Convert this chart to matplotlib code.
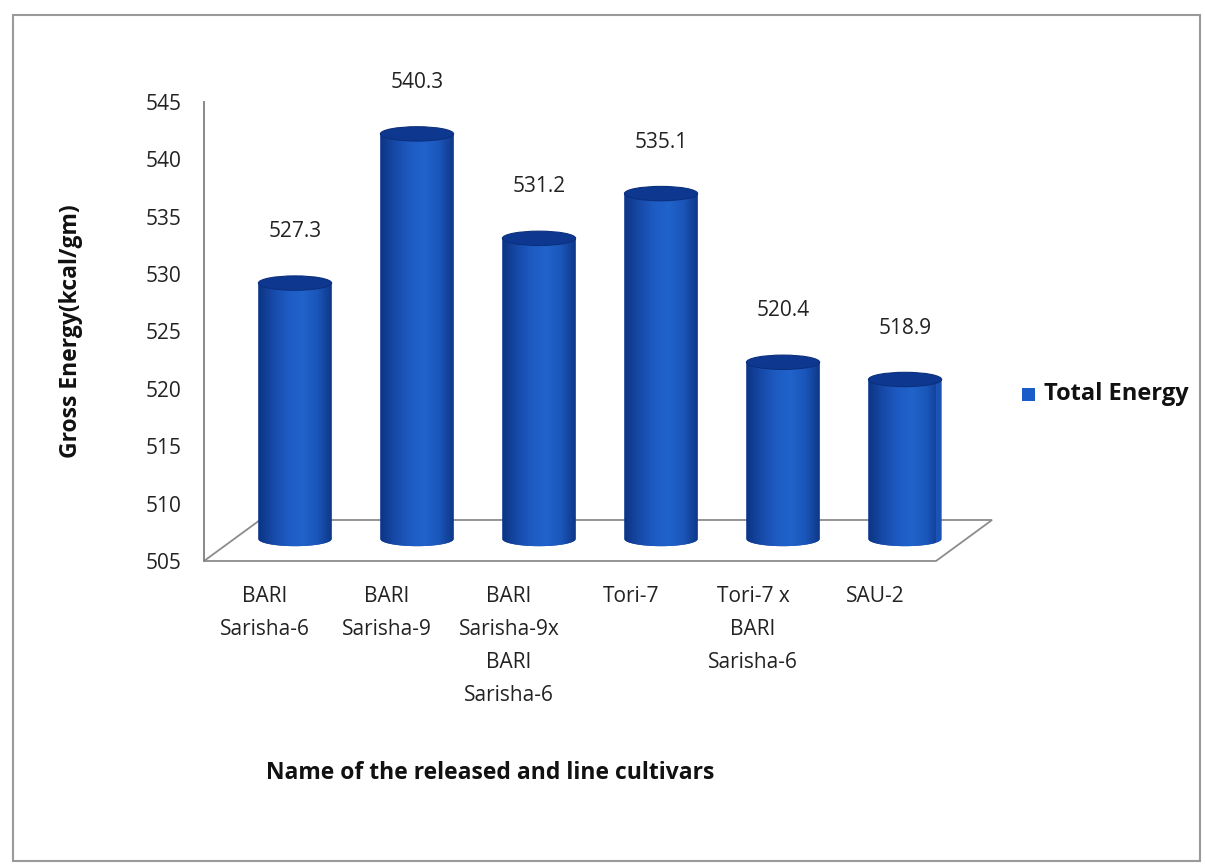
import numpy as np
import matplotlib
matplotlib.use('Agg')
import matplotlib.pyplot as plt
import matplotlib.transforms as mtransforms
from matplotlib.path import Path
from matplotlib.patches import PathPatch, Ellipse, Rectangle, Polygon

# data
cultivars = ['BARI\nSarisha-6', 'BARI\nSarisha-9', 'BARI\nSarisha-9x\nBARI\nSarisha-6',
             'Tori-7', 'Tori-7 x\nBARI\nSarisha-6', 'SAU-2']
energy = [527.3, 540.3, 531.2, 535.1, 520.4, 518.9]
y_ticks = [505, 510, 515, 520, 525, 530, 535, 540, 545]
series_name = 'Total Energy'

plt.rcParams['font.family'] = ['Open Sans', 'DejaVu Sans']

fig = plt.figure(figsize=(12.05, 8.64), dpi=100)
ax = fig.add_axes([0.1693, 0.3507, 0.6075, 0.5313])
ymin, ymax = 505, 545
ax.set_xlim(-0.5, len(cultivars) - 0.5)
ax.set_ylim(ymin, ymax)

# outer chart frame
fig.patches.append(Rectangle((13 / 1205, 3 / 864), 1187 / 1205, 846 / 864,
                             transform=fig.transFigure, fill=False,
                             edgecolor='#9a9a9a', linewidth=1.5))

for s in ['top', 'right', 'bottom']:
    ax.spines[s].set_visible(False)
ax.spines['left'].set_color('#7f7f7f')
ax.spines['left'].set_linewidth(1.3)
ax.set_yticks(y_ticks)
ax.set_xticks(range(len(cultivars)))
ax.set_xticklabels(cultivars, fontsize=15, color='#222222', linespacing=1.75)
ax.tick_params(axis='both', length=0, labelsize=15, labelcolor='#222222')
ax.tick_params(axis='y', pad=16)
ax.tick_params(axis='x', pad=18)
for lab in ax.get_xticklabels():
    lab.set_verticalalignment('top')

# floor of the 3d plot (depth drawn with pixel offsets)
back = mtransforms.offset_copy(ax.transData, fig=fig, x=56, y=41, units='dots')
x0, x1 = -0.5, len(cultivars) - 0.5
fx0, fy0 = ax.transData.transform((x0, ymin))
fx1, fy1 = ax.transData.transform((x1, ymin))
bx0, by0 = back.transform((x0, ymin))
bx1, by1 = back.transform((x1, ymin))
floor = Polygon([(fx0, fy0), (fx1, fy1), (bx1, by1), (bx0, by0)], closed=True,
                transform=None, facecolor='white', edgecolor='#8c8c8c',
                linewidth=1.3, zorder=1, clip_on=False)
ax.add_artist(floor)

# cylinders
mid = mtransforms.offset_copy(ax.transData, fig=fig, x=30, y=22, units='dots')
w = 0.6
eh = 1.25  # ellipse height in data units
grad = np.linspace(0, 1, 256)
cmap = matplotlib.colors.LinearSegmentedColormap.from_list(
    'cyl', ['#0c3382', '#1749a8', '#1d5bc2', '#2063cb', '#1b56ba', '#0e3788'])

for i, v in enumerate(energy):
    xl, xr = i - w / 2, i + w / 2
    t = np.linspace(np.pi, 2 * np.pi, 60)
    arc_x = i + (w / 2) * np.cos(t)
    arc_y = ymin + (eh / 2) * np.sin(t)
    verts = [(xl, v)] + list(zip(arc_x, arc_y)) + [(xr, v), (xl, v)]
    codes = [Path.MOVETO] + [Path.LINETO] * (len(verts) - 2) + [Path.CLOSEPOLY]
    body = PathPatch(Path(verts, codes), transform=mid, facecolor='#1a52b5',
                     edgecolor='none', zorder=3, clip_on=False)
    ax.add_patch(body)
    img = ax.imshow(grad[np.newaxis, :], cmap=cmap, aspect='auto',
                    extent=(xl, xr, ymin - eh, v), transform=mid, zorder=3.1,
                    interpolation='bilinear')
    img.set_clip_path(body)
    img.set_clip_box(None)
    top = Ellipse((i, v), w, eh, transform=mid, facecolor='#0e3890',
                  edgecolor='#0b2f7c', linewidth=0.8, zorder=4, clip_on=False)
    ax.add_patch(top)
    ax.annotate(f'{v:.1f}', xy=(i, v), xycoords=mid, xytext=(0, 37),
                textcoords='offset points', ha='center', va='center',
                fontsize=15, color='#222222', annotation_clip=False)

ax.set_xlim(-0.5, len(cultivars) - 0.5)
ax.set_ylim(ymin, ymax)

ax.set_ylabel('Gross Energy(kcal/gm)', fontsize=16.5, fontweight='bold',
              color='#111111')
ax.yaxis.set_label_coords(-0.165, 0.5)
fig.text(0.407, 1 - 773 / 864, 'Name of the released and line cultivars',
         ha='center', va='center', fontsize=16.5, fontweight='bold',
         color='#111111')

# legend
fig.patches.append(Rectangle((1022 / 1205, 1 - 401 / 864), 13 / 1205, 13 / 864,
                             transform=fig.transFigure, facecolor='#1a5cc8',
                             edgecolor='none'))
fig.text(1044 / 1205, 1 - 394 / 864, series_name, ha='left', va='center',
         fontsize=17, fontweight='bold', color='#111111')

fig.savefig('out.png', dpi=100)
